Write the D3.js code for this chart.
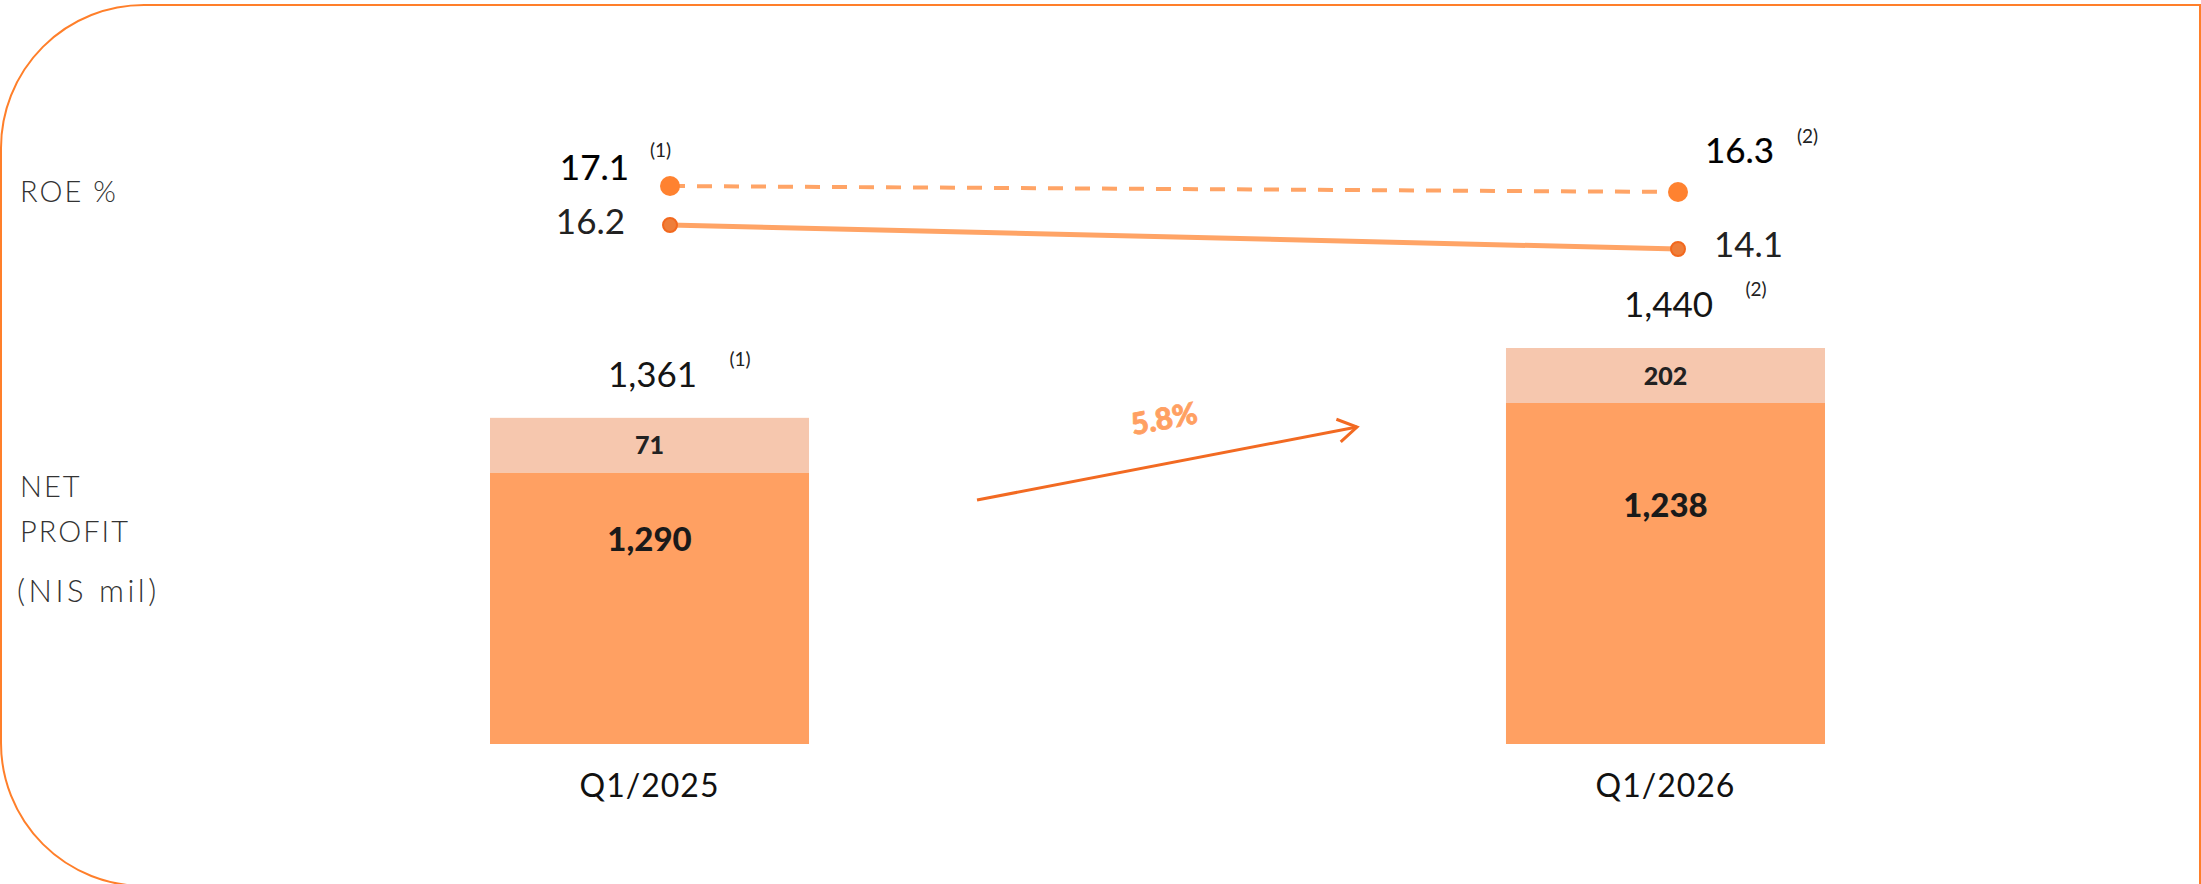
<!DOCTYPE html>
<html>
<head>
<meta charset="utf-8">
<script src="https://cdn.jsdelivr.net/npm/d3@7/dist/d3.min.js"></script>
<style>
  html, body { margin: 0; padding: 0; background: #fff; }
  svg { display: block; font-family: Lato, "Open Sans", sans-serif; }
</style>
</head>
<body>
<svg id="chart" width="2201" height="884"></svg>
<script>
(function () {
// ---- data ----
const periods = ["Q1/2025", "Q1/2026"];
const netProfitBase = [1290, 1238];
const netProfitExtra = [71, 202];
const netProfitTotal = [1361, 1440];
const totalNotes = ["(1)", "(2)"];
const roeReported = [17.1, 16.3];
const roeReportedNotes = ["(1)", "(2)"];
const roeAdjusted = [16.2, 14.1];
const rowLabels = ["ROE %", "NET", "PROFIT", "(NIS mil)"];

const svg = d3.select("#chart");

// frame
const fr = 143, fL = 1, fT = 5, fR = 2200, fB = 886;
svg.append("path")
  .attr("d", `M${fR},${fB} L${fR},${fT} L${fL + fr},${fT} A${fr},${fr} 0 0 0 ${fL},${fT + fr} L${fL},${fB - fr} A${fr},${fr} 0 0 0 ${fL + fr},${fB}`)
  .attr("fill", "none").attr("stroke", "#FF7F2A").attr("stroke-width", 2);

// scales
const x = d3.scaleBand().domain(periods).range([490, 1825]).paddingInner(0.686).paddingOuter(0);
const y = d3.scaleLinear().domain([992, 1440]).range([744, 348]);
const capH = 55;
const xp = d3.scalePoint().domain(periods).range([670, 1678]);
const yRep = d3.scaleLinear().domain([16.3, 17.1]).range([192, 186]);
const yAdj = d3.scaleLinear().domain([14.1, 16.2]).range([249, 225]);

const bars = periods.map((p, i) => ({p, base: netProfitBase[i], extra: netProfitExtra[i], total: netProfitTotal[i], note: totalNotes[i]}));

// bars
const g = svg.append("g");
g.selectAll("rect.extra").data(bars).join("rect").attr("class", "extra")
  .attr("x", d => x(d.p)).attr("width", x.bandwidth())
  .attr("y", d => y(d.total)).attr("height", capH)
  .attr("fill", "#F6C7AE");
g.selectAll("rect.base").data(bars).join("rect").attr("class", "base")
  .attr("x", d => x(d.p)).attr("width", x.bandwidth())
  .attr("y", d => y(d.total) + capH).attr("height", d => y.range()[0] - y(d.total) - capH)
  .attr("fill", "#FFA062");

const fmt = d3.format(",");
g.selectAll("text.extra").data(bars).join("text").attr("class", "extra")
  .attr("x", d => x(d.p) + x.bandwidth() / 2).attr("y", d => y(d.total) + capH / 2 + 9)
  .attr("text-anchor", "middle").attr("font-size", 25).attr("font-weight", 900).attr("fill", "#222")
  .text(d => fmt(d.extra));
g.selectAll("text.base").data(bars).join("text").attr("class", "base")
  .attr("x", d => x(d.p) + x.bandwidth() / 2)
  .attr("y", d => (y(d.total) + capH + y.range()[0]) / 2 - 57)
  .attr("text-anchor", "middle").attr("font-size", 33).attr("font-weight", 900).attr("fill", "#1a1a1a")
  .text(d => fmt(d.base));
g.selectAll("text.total").data(bars).join("text").attr("class", "total")
  .attr("x", d => x(d.p) + x.bandwidth() / 2 + 3).attr("y", d => y(d.total) - 31)
  .attr("text-anchor", "middle").attr("font-size", 35).attr("font-weight", 400).attr("fill", "#151515")
  .text(d => fmt(d.total));
g.selectAll("text.tnote").data(bars).join("text").attr("class", "tnote")
  .attr("x", d => x(d.p) + x.bandwidth() / 2 + 80).attr("y", d => y(d.total) - 52)
  .attr("font-size", 19).attr("fill", "#222")
  .text(d => d.note);
g.selectAll("text.cat").data(periods).join("text").attr("class", "cat")
  .attr("x", d => x(d) + x.bandwidth() / 2).attr("y", 797)
  .attr("text-anchor", "middle").attr("font-size", 32).attr("font-weight", 400).attr("letter-spacing", 1).attr("fill", "#111")
  .text(d => d);

// ROE lines
const rep = periods.map((p, i) => ({p, v: roeReported[i], note: roeReportedNotes[i]}));
const adj = periods.map((p, i) => ({p, v: roeAdjusted[i]}));
svg.append("path").datum(rep)
  .attr("d", d3.line().x(d => xp(d.p)).y(d => yRep(d.v)))
  .attr("fill", "none").attr("stroke", "#FFA466").attr("stroke-width", 4).attr("stroke-dasharray", "15 12");
svg.append("path").datum(adj)
  .attr("d", d3.line().x(d => xp(d.p)).y(d => yAdj(d.v)))
  .attr("fill", "none").attr("stroke", "#FFA466").attr("stroke-width", 5);
svg.selectAll("circle.rep").data(rep).join("circle").attr("class", "rep")
  .attr("cx", d => xp(d.p)).attr("cy", d => yRep(d.v)).attr("r", 10).attr("fill", "#FF8230");
svg.selectAll("circle.adj").data(adj).join("circle").attr("class", "adj")
  .attr("cx", d => xp(d.p)).attr("cy", d => yAdj(d.v)).attr("r", 7)
  .attr("fill", "#EE7E3A").attr("stroke", "#F2681E").attr("stroke-width", 2);

const f1 = d3.format(".1f");
svg.append("text").attr("x", xp(periods[0]) - 41).attr("y", yRep(roeReported[0]) - 6)
  .attr("text-anchor", "end").attr("font-size", 35).attr("font-weight", 400)
  .attr("fill", "#000").attr("stroke", "#000").attr("stroke-width", 0.2).text(f1(roeReported[0]));
svg.append("text").attr("x", xp(periods[0]) - 20).attr("y", yRep(roeReported[0]) - 29)
  .attr("font-size", 19).attr("fill", "#222").text(roeReportedNotes[0]);
svg.append("text").attr("x", xp(periods[1]) + 27).attr("y", yRep(roeReported[1]) - 29)
  .attr("font-size", 35).attr("font-weight", 400)
  .attr("fill", "#000").attr("stroke", "#000").attr("stroke-width", 0.2).text(f1(roeReported[1]));
svg.append("text").attr("x", xp(periods[1]) + 119).attr("y", yRep(roeReported[1]) - 49)
  .attr("font-size", 19).attr("fill", "#222").text(roeReportedNotes[1]);
svg.append("text").attr("x", xp(periods[0]) - 45).attr("y", yAdj(roeAdjusted[0]) + 9)
  .attr("text-anchor", "end").attr("font-size", 35).attr("font-weight", 400).attr("fill", "#222").text(f1(roeAdjusted[0]));
svg.append("text").attr("x", xp(periods[1]) + 36).attr("y", yAdj(roeAdjusted[1]) + 8)
  .attr("font-size", 35).attr("font-weight", 400).attr("fill", "#222").text(f1(roeAdjusted[1]));

// row labels
const rowY = [202, 497, 542, 602];
svg.selectAll("text.row").data(rowLabels).join("text").attr("class", "row")
  .attr("x", (d, i) => i === 3 ? 17 : 20).attr("y", (d, i) => rowY[i])
  .attr("font-size", (d, i) => i === 3 ? 31 : 29).attr("font-weight", 300)
  .attr("letter-spacing", (d, i) => i === 3 ? 3.5 : 2).attr("fill", "#333")
  .text(d => d);

// growth arrow
const growth = (netProfitTotal[1] - netProfitTotal[0]) / netProfitTotal[0];
const x0 = x(periods[0]) + x.bandwidth() + 168, y0 = 500;
const x1 = x(periods[1]) - 149, y1 = 427;
const ang = Math.atan2(y1 - y0, x1 - x0);
svg.append("line").attr("x1", x0).attr("y1", y0).attr("x2", x1).attr("y2", y1)
  .attr("stroke", "#F26A22").attr("stroke-width", 3);
const ah = 22, spread = 0.55;
svg.append("path")
  .attr("d", `M${x1 - ah * Math.cos(ang - spread)},${y1 - ah * Math.sin(ang - spread)} L${x1},${y1} L${x1 - ah * Math.cos(ang + spread)},${y1 - ah * Math.sin(ang + spread)}`)
  .attr("fill", "none").attr("stroke", "#F26A22").attr("stroke-width", 3);
svg.append("text")
  .attr("transform", `translate(1166,429) rotate(${ang * 180 / Math.PI})`)
  .attr("text-anchor", "middle").attr("font-size", 30).attr("font-weight", 900).attr("fill", "#FFA062")
  .attr("stroke", "#FFA062").attr("stroke-width", 0.8)
  .text(d3.format(".1%")(growth));
})();
</script>
</body>
</html>
